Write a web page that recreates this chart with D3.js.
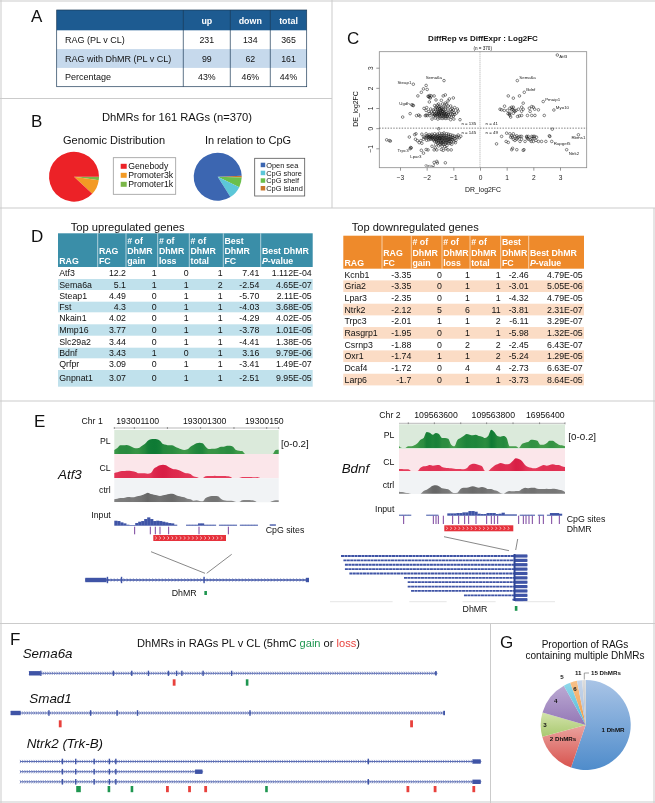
<!DOCTYPE html>
<html>
<head>
<meta charset="utf-8">
<title>DhMRs in RAGs</title>
<script src="https://cdn.jsdelivr.net/npm/d3@7"></script>
<style>
html, body { margin: 0; padding: 0; background: #fff; }
svg { display: block; font-family: "Liberation Sans", Arial, sans-serif; filter: blur(0.3px); }
</style>
</head>
<body>
<div id="chart"></div>
<script>
// panel A
const summaryCols = ["up", "down", "total"];
const summaryRows = ["RAG (PL v CL)", "RAG with DhMR (PL v CL)", "Percentage"];
const summaryVals = [["231", "134", "365"], ["99", "62", "161"], ["43%", "46%", "44%"]];

// panel B
const genomicNames = ["Promoter1k", "Promoter3k", "Genebody"];
const genomicVals = [8, 35, 317];
const cpgNames = ["CpG island", "CpG shelf", "CpG shore", "Open sea"];
const cpgVals = [4, 24, 32, 300];

// panel C, [DR_log2FC, DE_log2FC]
const upLeftPts = [[-2.02,2.12],[-2.12,1.95],[-1.98,1.92],[-2.2,1.78],[-2.33,1.6],[-1.72,1.6],[-1.95,1.58],[-1.9,1.52],[-1.88,1.62],[-1.82,1.6],[-1.3,1.65],[-1.38,1.6],[-1.0,1.5],[-1.15,1.45],[-1.45,1.38],[-1.2,1.35],[-1.9,1.3],[-1.55,1.2],[-1.4,1.2],[-1.3,1.25],[-1.25,1.2],[-1.6,1.15],[-1.7,1.12],[-1.65,1.05],[-1.55,1.05],[-1.5,1.08],[-1.45,1.02],[-1.35,1.1],[-1.3,1.05],[-1.2,1.1],[-1.1,1.1],[-1.05,0.98],[-0.95,1.02],[-0.85,0.95],[-0.82,0.85],[-0.88,0.75],[-1.0,0.9],[-1.1,0.92],[-1.2,0.95],[-1.3,0.95],[-1.38,0.92],[-1.45,0.9],[-1.52,0.92],[-1.6,0.92],[-1.68,0.95],[-1.75,0.9],[-1.85,0.95],[-2.0,1.02],[-2.1,0.98],[-2.02,0.88],[-1.92,0.82],[-1.82,0.8],[-1.72,0.82],[-1.62,0.8],[-1.55,0.82],[-1.48,0.78],[-1.42,0.82],[-1.35,0.8],[-1.28,0.82],[-1.2,0.78],[-1.12,0.8],[-1.05,0.82],[-0.98,0.78],[-0.95,0.68],[-1.02,0.68],[-1.1,0.7],[-1.18,0.68],[-1.25,0.72],[-1.32,0.7],[-1.38,0.72],[-1.45,0.7],[-1.52,0.72],[-1.58,0.7],[-1.65,0.72],[-1.72,0.7],[-1.78,0.72],[-1.9,0.72],[-1.98,0.62],[-2.05,0.62],[-2.02,0.65],[-2.3,0.65],[-2.38,0.62],[-2.25,0.6],[-2.62,0.72],[-2.9,0.55],[-1.88,0.62],[-1.75,0.6],[-1.68,0.62],[-1.6,0.6],[-1.55,0.62],[-1.5,0.58],[-1.42,0.6],[-1.36,0.58],[-1.3,0.6],[-1.24,0.58],[-1.15,0.6],[-1.08,0.55],[-1.0,0.6],[-0.98,0.45],[-1.1,0.42],[-1.2,0.5],[-1.28,0.48],[-1.35,0.5],[-1.42,0.48],[-1.5,0.5],[-1.58,0.45],[-1.68,0.5],[-1.8,0.45],[-0.75,0.42],[-1.48,0.88],[-1.58,0.85],[-1.4,0.85],[-1.33,0.76],[-1.46,0.74],[-1.55,0.76],[-1.62,0.66],[-1.7,0.66],[-1.28,0.66],[-1.22,0.62],[-1.44,0.64],[-1.35,0.64],[-1.52,0.66],[-1.6,1.0],[-1.5,0.98],[-1.42,0.96],[-1.92,1.58],[-1.86,1.5],[-2.52,1.14],[-2.5,1.12],[-1.65,1.4]];
const lowLeftPts = [[-3.5,-0.58],[-3.4,-0.62],[-3.36,-0.64],[-2.65,-0.44],[-2.45,-0.32],[-2.4,-0.28],[-2.42,-0.55],[-2.35,-0.62],[-2.28,-0.72],[-2.22,-0.62],[-2.18,-0.75],[-2.12,-0.55],[-2.18,-0.3],[-2.02,-0.28],[-1.9,-0.32],[-1.8,-0.3],[-1.7,-0.28],[-1.6,-0.3],[-1.52,-0.25],[-1.42,-0.28],[-1.35,-0.24],[-1.25,-0.28],[-1.18,-0.3],[-1.1,-0.33],[-1.02,-0.36],[-0.95,-0.4],[-0.88,-0.42],[-0.82,-0.34],[-1.55,-0.03],[-1.0,-0.48],[-1.05,-0.45],[-1.12,-0.42],[-1.18,-0.4],[-1.25,-0.38],[-1.32,-0.38],[-1.38,-0.36],[-1.44,-0.38],[-1.5,-0.36],[-1.56,-0.4],[-1.62,-0.38],[-1.68,-0.4],[-1.74,-0.38],[-1.8,-0.4],[-1.86,-0.38],[-1.92,-0.4],[-1.98,-0.38],[-2.0,-0.42],[-2.02,-0.48],[-1.95,-0.46],[-1.9,-0.44],[-1.84,-0.46],[-1.78,-0.44],[-1.72,-0.46],[-1.66,-0.46],[-1.6,-0.44],[-1.54,-0.46],[-1.48,-0.44],[-1.42,-0.46],[-1.36,-0.44],[-1.3,-0.46],[-1.24,-0.48],[-1.18,-0.5],[-1.12,-0.5],[-1.06,-0.55],[-1.02,-0.58],[-1.1,-0.58],[-1.16,-0.56],[-1.22,-0.56],[-1.28,-0.54],[-1.34,-0.52],[-1.4,-0.54],[-1.46,-0.52],[-1.52,-0.54],[-1.58,-0.52],[-1.64,-0.54],[-1.7,-0.52],[-1.76,-0.55],[-1.84,-0.55],[-1.92,-0.58],[-2.0,-0.6],[-1.62,-0.62],[-1.56,-0.6],[-1.5,-0.62],[-1.44,-0.6],[-1.38,-0.62],[-1.32,-0.6],[-1.26,-0.63],[-1.2,-0.64],[-1.14,-0.66],[-1.08,-0.68],[-1.7,-0.66],[-1.62,-0.68],[-1.56,-0.7],[-1.48,-0.68],[-1.42,-0.7],[-1.36,-0.68],[-1.3,-0.7],[-1.24,-0.72],[-1.18,-0.74],[-1.12,-0.76],[-1.06,-0.8],[-1.3,-0.78],[-1.36,-0.8],[-1.42,-0.78],[-1.5,-0.8],[-1.58,-0.76],[-1.66,-0.82],[-1.24,-0.86],[-1.32,-0.92],[-1.42,-0.9],[-1.55,-0.88],[-1.62,-1.08],[-1.72,-1.08],[-1.95,-1.08],[-2.02,-1.06],[-1.45,-1.06],[-1.38,-1.1],[-1.2,-1.08],[-1.08,-1.08],[-1.8,-0.9],[-1.68,-0.98],[-1.28,-1.02],[-2.58,-0.98],[-2.62,-1.02],[-2.2,-1.1],[-1.72,-1.7],[-1.62,-1.65],[-1.3,-1.72],[-0.95,-0.52],[-0.9,-0.6],[-0.85,-0.46],[-0.78,-0.48],[-0.72,-0.4],[-0.98,-0.68],[-0.92,-0.72],[-2.08,-0.46],[-2.12,-0.42],[-1.88,-0.52],[-1.8,-0.5],[-1.74,-0.6],[-1.66,-0.58],[-1.46,-0.74],[-1.52,-0.5]];
const upRightPts = [[1.06,1.6],[1.25,1.49],[1.48,1.6],[1.62,1.24],[0.75,0.94],[0.92,1.09],[0.81,0.91],[1.03,0.88],[1.12,0.99],[1.25,1.04],[1.22,0.94],[1.19,0.91],[1.56,1.04],[1.62,0.94],[1.56,0.84],[1.85,0.99],[1.94,1.07],[2.0,1.04],[2.05,0.94],[2.19,0.91],[1.12,0.74],[1.1,0.69],[1.12,0.64],[1.15,0.55],[1.41,0.58],[1.48,0.61],[1.56,0.63],[1.78,0.63],[1.94,0.63],[2.06,0.63],[2.41,0.63],[1.31,0.83],[1.25,0.74],[1.88,0.83],[0.91,0.88],[1.19,1.04],[1.35,0.88],[1.44,0.94],[1.27,0.88],[1.05,0.72]];
const lowRightPts = [[0.62,-0.78],[0.81,-0.41],[1.0,-0.25],[0.98,-0.66],[1.06,-0.71],[1.19,-1.07],[1.22,-1.0],[1.38,-1.07],[1.62,-1.1],[1.65,-1.07],[1.12,-0.28],[1.25,-0.28],[1.19,-0.38],[1.31,-0.41],[1.38,-0.38],[1.44,-0.45],[1.5,-0.41],[1.31,-0.61],[1.38,-0.55],[1.25,-0.55],[1.56,-0.41],[1.69,-0.66],[1.75,-0.45],[1.78,-0.5],[1.75,-0.41],[1.94,-0.41],[2.0,-0.41],[2.02,-0.5],[1.92,-0.66],[2.0,-0.66],[2.1,-0.61],[2.19,-0.66],[2.31,-0.66],[2.47,-0.66],[2.6,-0.38],[2.62,-0.41],[2.71,-0.05],[2.05,-0.41],[1.5,-0.66],[1.22,-0.45],[1.15,-0.45],[1.56,-0.55],[1.88,-0.58],[1.81,-0.55],[2.12,-0.45],[1.81,-0.41],[1.95,-0.5],[1.4,-0.5]];
const geneNames = ["Atf3", "Sema6a", "Bdnf", "Pmaip1", "Myo10", "Rbms1", "Rapgef5", "Ntrk2", "Steap1", "Sema6a", "Ugdh", "Trpc3", "Lpar3", "Gria2"];
const geneDR = [2.9, 1.4, 1.66, 2.37, 2.77, 3.69, 2.69, 3.25, -2.5, -1.35, -2.56, -2.6, -2.12, -1.6];
const geneDE = [3.63, 2.36, 1.78, 1.32, 0.9, -0.33, -0.66, -1.07, 2.18, 2.36, 1.16, -0.96, -1.24, -1.73];
const countLabels = ["n = 135", "n = 41", "n = 145", "n = 49"];

// panel D
const tableHead = [["RAG"], ["RAG", "FC"], ["# of", "DhMR", "gain"], ["# of", "DhMR", "loss"], ["# of", "DhMR", "total"], ["Best", "DhMR", "FC"], ["Best DhMR", "P-value"]];
const upGenes = ["Atf3", "Sema6a", "Steap1", "Fst", "Nkain1", "Mmp16", "Slc29a2", "Bdnf", "Qrfpr", "Gnpnat1"];
const upFC = ["12.2", "5.1", "4.49", "4.3", "4.02", "3.77", "3.44", "3.43", "3.09", "3.07"];
const upGain = [1, 1, 0, 0, 0, 0, 0, 1, 0, 0];
const upLoss = [0, 1, 1, 1, 1, 1, 1, 0, 1, 1];
const upTotal = [1, 2, 1, 1, 1, 1, 1, 1, 1, 1];
const upBest = ["7.41", "-2.54", "-5.70", "-4.03", "-4.29", "-3.78", "-4.41", "3.16", "-3.41", "-2.51"];
const upPval = ["1.112E-04", "4.65E-07", "2.11E-05", "3.68E-05", "4.02E-05", "1.01E-05", "1.38E-05", "9.79E-06", "1.49E-07", "9.95E-05"];
const downGenes = ["Kcnb1", "Gria2", "Lpar3", "Ntrk2", "Trpc3", "Rasgrp1", "Csrnp3", "Oxr1", "Dcaf4", "Larp6"];
const downFC = ["-3.35", "-3.35", "-2.35", "-2.12", "-2.01", "-1.95", "-1.88", "-1.74", "-1.72", "-1.7"];
const downGain = [0, 0, 0, 5, 1, 0, 0, 1, 0, 0];
const downLoss = [1, 1, 1, 6, 1, 1, 2, 1, 4, 1];
const downTotal = [1, 1, 1, 11, 2, 1, 2, 2, 4, 1];
const downBest = ["-2.46", "-3.01", "-4.32", "-3.81", "-6.11", "-5.98", "-2.45", "-5.24", "-2.73", "-3.73"];
const downPval = ["4.79E-05", "5.05E-06", "4.79E-05", "2.31E-07", "3.29E-07", "1.32E-05", "6.43E-07", "1.29E-05", "6.63E-07", "8.64E-05"];

// panel E, signal per bin
const atf3PL = [12,18,26,26,27,25,20,17,18,24,30,40,44,45,44,40,30,28,26,26,22,18,14,12,14,22,27,32,34,32,22,15,16,16,18,22,22,25,25,22,12,10,9,0,0,0,0,0,0,0,0,0,0,12,13];
const atf3CL = [15,17,20,21,22,22,20,18,14,14,14,13,15,28,34,38,40,38,32,28,26,24,20,16,14,12,5,3,0,0,5,6,6,7,6,6,6,5,4,0,0,0,3,3,3,3,2,3,0,0,0,0,0,0,0];
const atf3Ctrl = [8,10,12,12,14,15,14,16,18,20,24,28,24,22,20,18,20,22,24,25,22,18,16,14,10,8,4,5,3,2,12,16,18,18,17,10,5,4,4,3,0,0,5,6,6,5,4,0,0,0,0,0,3,5,5];
const atf3Input = [15,14,10,7,3,2,2,8,12,14,20,25,20,14,15,14,12,10,8,7,3,0,0,0,3,3,3,3,7,7,3,3,3,3,0,3,3,3,3,3,3,0,3,3,3,3,3,3,0,0,0,0,4,4,0];
const bdnfPL = [6,0,0,5,5,8,14,25,30,48,46,40,45,42,30,30,28,10,5,24,30,36,42,40,38,40,36,34,30,36,55,48,36,34,36,30,5,5,5,0,12,16,18,25,24,22,10,10,14,22,22,16,10,8,5];
const bdnfCL = [6,6,5,5,0,0,0,10,14,15,18,16,17,18,12,10,9,8,7,6,6,5,8,18,22,21,18,14,0,0,8,16,20,24,22,20,22,30,38,36,30,18,12,10,8,10,14,18,16,18,20,18,18,14,12];
const bdnfCtrl = [6,5,3,2,0,0,0,0,8,12,18,24,25,22,16,15,13,6,2,3,14,18,18,20,22,20,18,20,18,14,14,10,8,2,0,5,8,7,8,8,14,18,16,18,18,15,14,14,15,14,15,14,12,10,5];
const bdnfInput = [3,3,3,3,0,0,0,0,0,3,3,3,3,0,0,0,7,7,7,8,8,10,10,14,14,12,6,5,5,8,8,8,5,6,9,4,4,4,4,0,3,3,3,3,3,0,3,3,0,3,8,8,8,6,0];
const atf3Cpg = [404, 451, 466, 480, 506, 597, 685];
const bdnfCpg = [221, 310, 318, 325, 340, 368, 386, 404, 416, 438, 470, 484, 493, 503, 566, 580, 588, 597, 607, 628, 640, 665, 688];
const atf3Ticks = ["193001100", "193001300", "19300150"];
const bdnfTicks = ["109563600", "109563800", "16956400"];
const bdnfStarts = [0, 1.3, 2.1, 2.1, 4.5, 33.8, 35.8, 35.8, 37.6, 66, 92];

// panel F, positions in percent of the gene length
const sema6aExons = [2.9, 20.7, 25.2, 29.3, 34.2, 36.2, 37.5, 42.7, 49.7];
const sema6aLoss = [35.6];
const sema6aGain = [53.5];
const smad1Exons = [8.8, 18.4, 24.5, 29.2, 55.1];
const smad1Loss = [11.4, 92.3];
const smad1Gain = [];
const ntrk2Exons = [9.2, 12.1, 16.1, 19.4, 20.8, 75.6];
const ntrk2Loss = [32, 36.8, 40.3, 84.2, 90.1, 98.5];
const ntrk2Gain = [12.7, 19.3, 24.3, 53.5];

// panel G
const multiNames = ["1 DhMR", "2 DhMRs", "3", "4", "5", "6", "11", "15 DhMRs"];
const multiVals = [89, 25, 14, 20, 4, 4, 3, 2];

const svg = d3.select("#chart").append("svg").attr("width", 655).attr("height", 803);
const defs = svg.append("defs");
const lineCol = "#cbcbcb", blue = "#3f54a6", red = "#e8413c", green = "#1f9650";
let gradCount = 0;

function txt(parent, x, y, s, size, opts) {
	opts = opts || {};
	return parent.append("text").attr("x", x).attr("y", y).text(s)
		.attr("font-size", size)
		.attr("fill", opts.fill || "#111")
		.attr("text-anchor", opts.anchor || "start")
		.attr("font-weight", opts.weight || null)
		.attr("font-style", opts.style || null);
}

// panel frame lines
const frame = [[0, 1, 655, 1], [1, 0, 1, 803], [0, 98.5, 332, 98.5], [332, 0, 332, 208], [0, 208, 655, 208], [0, 401, 655, 401], [0, 623.5, 655, 623.5], [490.5, 623.5, 490.5, 803], [654, 208, 654, 803], [0, 802, 655, 802]];
svg.selectAll("line.frame").data(frame).join("line").attr("class", "frame")
	.attr("x1", d => d[0]).attr("y1", d => d[1]).attr("x2", d => d[2]).attr("y2", d => d[3])
	.attr("stroke", lineCol).attr("stroke-width", 1);

[["A", 31, 22], ["B", 31, 127], ["C", 347, 44], ["D", 31, 242], ["E", 34, 427], ["F", 10, 645], ["G", 500, 648]].forEach(d => {
	txt(svg, d[1], d[2], d[0], 17);
});

function drawSummary() {
	const g = svg.append("g");
	const left = 56.7, right = 306.7;
	const colEdges = [left, 183.3, 230.3, 270.3, right];
	const rowY = d3.scaleBand().domain(d3.range(summaryRows.length)).range([30.3, 86.7]);
	g.append("rect").attr("x", left).attr("y", 10).attr("width", right - left).attr("height", 20.3).attr("fill", "#1d5b91");
	g.append("rect").attr("x", left).attr("y", rowY(1)).attr("width", right - left).attr("height", rowY.bandwidth()).attr("fill", "#c6d9ec");
	summaryCols.forEach((c, i) => {
		txt(g, (colEdges[i + 1] + colEdges[i + 2]) / 2, 23.5, c, 8.9, { fill: "#fff", anchor: "middle", weight: "bold" });
	});
	summaryRows.forEach((r, i) => {
		const y = rowY(i) + rowY.bandwidth() / 2 + 3;
		txt(g, 65, y, r, 9);
		summaryVals[i].forEach((v, j) => {
			txt(g, (colEdges[j + 1] + colEdges[j + 2]) / 2, y, v, 8.8, { anchor: "middle" });
		});
	});
	g.append("rect").attr("x", left).attr("y", 10).attr("width", right - left).attr("height", 76.7).attr("fill", "none").attr("stroke", "#1b3a57").attr("stroke-width", 0.7);
	colEdges.slice(1, 4).forEach(x => {
		g.append("line").attr("x1", x).attr("x2", x).attr("y1", 10).attr("y2", 86.7).attr("stroke", "#1b3a57").attr("stroke-width", 0.7);
	});
}

function smallPie(cx, cy, r, vals, cols, startDeg) {
	const start = startDeg * Math.PI / 180;
	const pie = d3.pie().sort(null).startAngle(start).endAngle(start + 2 * Math.PI);
	const arc = d3.arc().innerRadius(0).outerRadius(r);
	svg.append("g").attr("transform", `translate(${cx},${cy})`)
		.selectAll("path").data(pie(vals)).join("path")
		.attr("d", arc).attr("fill", (d, i) => cols[i]);
}

function drawLegend(box, names, cols, x, ys, size, swatch) {
	svg.append("rect").attr("x", box[0]).attr("y", box[1]).attr("width", box[2]).attr("height", box[3])
		.attr("fill", "#fff").attr("stroke", box[4]).attr("stroke-width", 0.8);
	names.forEach((n, i) => {
		svg.append("rect").attr("x", x).attr("y", ys[i] - swatch[1] - 0.5).attr("width", swatch[0]).attr("height", swatch[1]).attr("fill", cols[i]);
		txt(svg, x + swatch[0] + (swatch[0] > 5 ? 1.5 : 1), ys[i], n, size);
	});
}

function drawPies() {
	txt(svg, 177, 121, "DhMRs for 161 RAGs (n=370)", 11.2, { anchor: "middle" });
	txt(svg, 114, 144, "Genomic Distribution", 11, { anchor: "middle" });
	txt(svg, 248, 144, "In relation to CpG", 11, { anchor: "middle" });
	const genomicCols = ["#7ab648", "#f39a24", "#ec2227"];
	const cpgCols = ["#c9772d", "#6abf4b", "#5cc7d8", "#3c66b1"];
	smallPie(74, 176.7, 25, genomicVals, genomicCols, 90);
	smallPie(217.7, 176.7, 24, cpgVals, cpgCols, 88);
	drawLegend([113.3, 157.7, 62.4, 36.6, "#9a9a9a"], genomicNames.slice().reverse(), genomicCols.slice().reverse(), 120.7, [169.3, 178.3, 187.3], 8.7, [6, 5]);
	drawLegend([254.7, 158.3, 50, 37.7, "#555"], cpgNames.slice().reverse(), cpgCols.slice().reverse(), 260.7, [167.7, 175.7, 183.3, 191], 7.4, [4.5, 4.5]);
}

function drawScatter() {
	const g = svg.append("g");
	const x = d3.scaleLinear().domain([-3, 3]).range([400, 560]);
	const y = d3.scaleLinear().domain([-1, 3]).range([148.3, 67.7]);
	const box = [379.3, 586.7, 167.7, 51.7];
	txt(g, 483, 41, "DiffRep vs DiffExpr : Log2FC", 8, { anchor: "middle", weight: "bold" });
	txt(g, 482.7, 50.4, "(n = 370)", 4.6, { anchor: "middle" });
	g.append("rect").attr("x", box[0]).attr("y", box[3]).attr("width", box[1] - box[0]).attr("height", box[2] - box[3])
		.attr("fill", "none").attr("stroke", "#8a8a8a").attr("stroke-width", 0.8);

	const axisX = d3.axisBottom(x).tickValues(d3.range(-3, 4)).tickSize(3).tickFormat(d => d < 0 ? "\u2212" + (-d) : d);
	const ax = g.append("g").attr("transform", `translate(0,${box[2]})`).call(axisX);
	ax.select(".domain").remove();
	ax.selectAll("line").attr("stroke", "#555").attr("stroke-width", 0.6);
	ax.selectAll("text").attr("font-size", 6.6).attr("fill", "#222").attr("font-family", "inherit").attr("dy", null).attr("y", 12.5);

	const axisY = d3.axisLeft(y).tickValues(d3.range(-1, 4)).tickSize(3).tickFormat(d => d < 0 ? "\u2212" + (-d) : d);
	const ay = g.append("g").attr("transform", `translate(${box[0]},0)`).call(axisY);
	ay.select(".domain").remove();
	ay.selectAll("line").attr("stroke", "#555").attr("stroke-width", 0.6);
	ay.selectAll("text").attr("font-size", 6.6).attr("fill", "#222").attr("font-family", "inherit")
		.attr("x", null).attr("dy", null).attr("text-anchor", "middle")
		.attr("transform", "translate(-6.5,0) rotate(-90)");

	txt(g, 483, 191.5, "DR_log2FC", 6.9, { anchor: "middle" });
	txt(g, 0, 0, "DE_log2FC", 6.9, { anchor: "middle" }).attr("transform", "translate(358,109) rotate(-90)");

	g.append("line").attr("x1", box[0]).attr("x2", box[1]).attr("y1", y(0)).attr("y2", y(0))
		.attr("stroke", "#222").attr("stroke-width", 0.6).attr("stroke-dasharray", "1.4,1.4");
	g.append("line").attr("x1", x(0)).attr("x2", x(0)).attr("y1", box[3]).attr("y2", box[2])
		.attr("stroke", "#888").attr("stroke-width", 0.7).attr("stroke-dasharray", "1,1");

	const namedPts = geneNames.map((n, i) => [geneDR[i], geneDE[i]]);
	const pts = upLeftPts.concat(lowLeftPts, upRightPts, lowRightPts, namedPts);
	g.selectAll("circle").data(pts).join("circle")
		.attr("cx", d => x(d[0])).attr("cy", d => y(d[1])).attr("r", 1.3)
		.attr("fill", "none").attr("stroke", "#111").attr("stroke-width", 0.5);

	// label offsets from each named point
	const labelOff = [[2, 3, "start"], [2, -2, "start"], [2, -1.5, "start"], [2, -1, "start"], [2, -1.5, "start"], [0, 4, "middle"], [2, 4, "start"], [2, 5, "start"], [-2, 0, "end"], [-2, -1.5, "end"], [-2, 0, "end"], [-2, 5, "end"], [-2, 5, "end"], [-2, 4, "end"]];
	geneNames.forEach((n, i) => {
		const o = labelOff[i];
		txt(g, x(geneDR[i]) + o[0], y(geneDE[i]) + o[1], n, 4.4, { anchor: o[2], fill: "#222" });
	});

	txt(g, x(-0.42), y(0.17), countLabels[0], 4.4, { anchor: "middle" });
	txt(g, x(0.44), y(0.17), countLabels[1], 4.4, { anchor: "middle" });
	txt(g, x(-0.42), y(-0.3), countLabels[2], 4.4, { anchor: "middle" });
	txt(g, x(0.44), y(-0.3), countLabels[3], 4.4, { anchor: "middle" });
}

function drawTable(t) {
	const g = svg.append("g");
	const e = t.edges, left = e[0], right = e[e.length - 1];
	g.append("rect").attr("x", left).attr("y", t.headTop).attr("width", right - left).attr("height", t.headBottom - t.headTop).attr("fill", t.head);
	e.slice(1, -1).forEach(x => {
		g.append("line").attr("x1", x).attr("x2", x).attr("y1", t.headTop).attr("y2", t.headBottom).attr("stroke", "#fff").attr("stroke-width", 0.6);
	});
	tableHead.forEach((lines, i) => {
		const lx = e[i] + 1.2;
		lines.forEach((l, k) => {
			const yy = t.headBottom - 2.6 - (lines.length - 1 - k) * 10.4;
			const node = txt(g, lx, yy, l === "P-value" ? "" : l, 8.8, { fill: "#fff", weight: "bold" });
			if (l === "P-value") {
				node.append("tspan").attr("font-style", "italic").text("P");
				node.append("tspan").text("-value");
			}
		});
	});
	let top = t.headBottom;
	t.rows[0].forEach((gene, r) => {
		const h = t.heights[r];
		if (r % 2 === 1) {
			g.append("rect").attr("x", left).attr("y", top).attr("width", right - left).attr("height", h).attr("fill", t.band);
		}
		const yy = top + h / 2 + 3;
		txt(g, left + 1.2, yy, gene, 8.8);
		t.rows.slice(1).forEach((col, c) => {
			txt(g, t.rights[c], yy, col[r], 8.8, { anchor: "end" });
		});
		top += h;
	});
}

// signal track: a smooth area, darker where the signal is high
function drawSignal(g, vals, x0, x1, base, colors) {
	const x = d3.scaleLinear().domain([0, vals.length - 1]).range([x0, x1]);
	const h = d3.scaleLinear().domain([0, 72]).range([0, 24]);
	const col = d3.scaleLinear().domain([0, d3.max(vals)]).range(colors);
	const id = "signal" + (gradCount++);
	const lg = defs.append("linearGradient").attr("id", id).attr("gradientUnits", "userSpaceOnUse")
		.attr("x1", x0).attr("x2", x1).attr("y1", 0).attr("y2", 0);
	vals.forEach((v, i) => {
		lg.append("stop").attr("offset", i / (vals.length - 1)).attr("stop-color", col(v));
	});
	const area = d3.area().x((d, i) => x(i)).y0(base).y1(d => base - h(d)).curve(d3.curveMonotoneX);
	g.append("path").attr("d", area(vals)).attr("fill", `url(#${id})`);
}

function drawInput(g, vals, x0, x1, base) {
	const x = d3.scaleBand().domain(d3.range(vals.length)).range([x0, x1]);
	const h = d3.scaleLinear().domain([0, 72]).range([0, 24]);
	g.selectAll(null).data(vals).join("rect")
		.attr("x", (d, i) => x(i)).attr("width", x.bandwidth() + 0.2)
		.attr("y", d => base - h(d)).attr("height", d => h(d))
		.attr("fill", blue);
}

function chevrons(g, x0, x1, y, h) {
	const pts = d3.range(x0 + 2, x1 - 2, 4.1);
	g.selectAll(null).data(pts).join("path")
		.attr("d", d => `M${d},${y + 1.4}l1.3,${h / 2 - 1.4}l-1.3,${h / 2 - 1.4}`)
		.attr("fill", "none").attr("stroke", "#fff").attr("stroke-width", 0.6);
}

function drawBrowser(b) {
	const g = svg.append("g");
	const x = d3.scaleLinear().domain([0, 1]).range([b.x0, b.x1]);
	txt(g, b.chrX, b.tickY, b.chr, 8.7);
	b.tickLabels.forEach((s, i) => txt(g, b.tickXs[i], b.tickY, s, 8.7, { anchor: "middle" }));
	g.append("line").attr("x1", b.x0).attr("x2", b.x1).attr("y1", b.axisY).attr("y2", b.axisY).attr("stroke", "#8b8b8b").attr("stroke-width", 0.6);
	b.axisTicks.forEach(f => {
		g.append("line").attr("x1", x(f)).attr("x2", x(f)).attr("y1", b.axisY - 1).attr("y2", b.axisY + 1).attr("stroke", "#555").attr("stroke-width", 0.6);
	});
	b.tracks.forEach(t => {
		g.append("rect").attr("x", b.x0).attr("y", t.top).attr("width", b.x1 - b.x0).attr("height", t.bottom - t.top).attr("fill", t.bg);
		drawSignal(g, t.vals, b.x0, b.x1, t.base, t.cols);
		txt(g, b.labelX, t.labelY, t.name, 8.7, { anchor: "end" });
	});
	txt(g, b.rangeX, b.rangeY, "[0-0.2]", 9.8);
	txt(g, b.geneX, b.geneY, b.gene, 13.4, { style: "italic" });
	txt(g, b.labelX, b.inputLabelY, "Input", 8.7, { anchor: "end" });
	drawInput(g.append("g"), b.input, b.x0, b.x1, b.inputBase);
	const cpgX = d3.scaleLinear().domain(b.cpgZoom).range([b.x0, b.x1]);
	g.selectAll(null).data(b.cpg).join("line")
		.attr("x1", d => cpgX(d)).attr("x2", d => cpgX(d)).attr("y1", b.cpgTop).attr("y2", b.cpgBottom)
		.attr("stroke", "#6a2c91").attr("stroke-width", 0.9);
	b.sideLabels.forEach(s => txt(g, s[1], s[2], s[0], 8.8));
	g.append("rect").attr("x", b.dmr[0]).attr("y", b.dmr[2]).attr("width", b.dmr[1] - b.dmr[0]).attr("height", 6).attr("fill", "#e6323c");
	chevrons(g, b.dmr[0], b.dmr[1], b.dmr[2], 6);
	b.connectors.forEach(c => {
		g.append("line").attr("x1", c[0]).attr("y1", c[1]).attr("x2", c[2]).attr("y2", c[3]).attr("stroke", "#555").attr("stroke-width", 0.7);
	});
	return g;
}

// gene model: intron line with small hatch marks plus exon blocks
function geneModel(g, x, y, o) {
	g.append("line").attr("x1", x(o.from)).attr("x2", x(o.to)).attr("y1", y).attr("y2", y).attr("stroke", blue).attr("stroke-width", o.lineW || 0.8);
	g.selectAll(null).data(d3.range(x(o.from), x(o.to), o.step)).join("path")
		.attr("d", d => `M${d},${y - 1.6}l1,1.6l-1,1.6`)
		.attr("fill", "none").attr("stroke", blue).attr("stroke-width", 0.6);
	(o.thick || []).forEach(t => {
		g.append("rect").attr("x", x(t[0])).attr("width", x(t[1]) - x(t[0])).attr("y", y - 2.2).attr("height", 4.4).attr("fill", blue);
	});
	g.selectAll(null).data(o.exons || []).join("rect")
		.attr("x", d => x(d) - 0.7).attr("width", 1.4).attr("y", y - (o.exonH || 3)).attr("height", 2 * (o.exonH || 3)).attr("fill", blue);
}

function dhmrMarks(g, x, top, h, loss, gain, wide) {
	loss.forEach(p => {
		g.append("rect").attr("x", x(p) - 1.4).attr("width", 2.8).attr("y", top).attr("height", h).attr("fill", red);
	});
	gain.forEach(p => {
		const w = wide === p ? 4.6 : 2.6;
		g.append("rect").attr("x", x(p) - w / 2).attr("width", w).attr("y", top).attr("height", h).attr("fill", green);
	});
}

function drawAtf3() {
	const g = drawBrowser({
		gene: "Atf3", geneX: 58, geneY: 479.3, chr: "Chr 1", chrX: 81.5, tickY: 423.7,
		x0: 114.3, x1: 278.7, axisY: 428, axisTicks: [0, 0.122, 0.323, 0.525, 0.728, 0.927, 1],
		tickLabels: atf3Ticks, tickXs: [137.7, 204.7, 264.3], labelX: 110.7,
		tracks: [
			{ name: "PL", vals: atf3PL, top: 430, bottom: 454, base: 454, bg: "#dbeadb", cols: ["#4da34f", "#0e7a34"], labelY: 443.7 },
			{ name: "CL", vals: atf3CL, top: 454, bottom: 478.3, base: 478, bg: "#fbe6ea", cols: ["#e8405f", "#d81e45"], labelY: 471 },
			{ name: "ctrl", vals: atf3Ctrl, top: 478.3, bottom: 502.3, base: 502, bg: "#f1f3f5", cols: ["#8d8d8d", "#666"], labelY: 492.7 }
		],
		rangeX: 281, rangeY: 446.7, inputLabelY: 517.7, input: atf3Input, inputBase: 525.7,
		cpg: atf3Cpg, cpgZoom: [343, 836], cpgTop: 526.7, cpgBottom: 534.3,
		sideLabels: [["CpG sites", 265.7, 533.3]], dmr: [153.3, 226, 535],
		connectors: [[151, 551.7, 205, 573.3], [231.7, 554.3, 206.7, 573.3]]
	});
	const x = d3.scaleLinear().domain([0, 100]).range([85.3, 309]);
	geneModel(g, x, 580, { from: 0, to: 100, step: 3.2, lineW: 1.4, thick: [[0, 9.5], [98.6, 100]], exons: [9.9, 16.2, 53.1], exonH: 3.2 });
	txt(g, 171.7, 595.7, "DhMR", 8.8);
	dhmrMarks(g, x, 591, 4, [], [53.8]);
}

function drawBdnf() {
	const g = drawBrowser({
		gene: "Bdnf", geneX: 341.7, geneY: 473.3, chr: "Chr 2", chrX: 379.3, tickY: 417.7,
		x0: 399, x1: 565, axisY: 423.3, axisTicks: [0.056, 0.213, 0.372, 0.528, 0.687, 0.847, 1],
		tickLabels: bdnfTicks, tickXs: [436, 493.3, 545.3], labelX: 394.3,
		tracks: [
			{ name: "PL", vals: bdnfPL, top: 424.3, bottom: 449, base: 448, bg: "#dbeadb", cols: ["#4da34f", "#0e7a34"], labelY: 438.3 },
			{ name: "CL", vals: bdnfCL, top: 449, bottom: 471.7, base: 471, bg: "#fbe6ea", cols: ["#e8405f", "#d81e45"], labelY: 465 },
			{ name: "ctrl", vals: bdnfCtrl, top: 471.7, bottom: 494, base: 493.7, bg: "#f1f3f5", cols: ["#8d8d8d", "#666"], labelY: 487.7 }
		],
		rangeX: 568.3, rangeY: 440, inputLabelY: 512.3, input: bdnfInput, inputBase: 515.7,
		cpg: bdnfCpg, cpgZoom: [207, 705], cpgTop: 515.7, cpgBottom: 524,
		sideLabels: [["CpG sites", 566.7, 521.7], ["DhMR", 566.7, 531.7]], dmr: [444.3, 513.3, 525.3],
		connectors: [[444, 536.7, 509, 550.7], [517.7, 539, 515.7, 550]]
	});
	const x = d3.scaleLinear().domain([0, 100]).range([341, 527.3]);
	const rowY = d3.scalePoint().domain(d3.range(bdnfStarts.length)).range([556, 599.7]);
	g.selectAll("line.tx").data(bdnfStarts).join("line").attr("class", "tx")
		.attr("x1", d => x(d)).attr("x2", x(100)).attr("y1", (d, i) => rowY(i)).attr("y2", (d, i) => rowY(i))
		.attr("stroke", blue).attr("stroke-width", 1.8).attr("stroke-dasharray", "3,0.4");
	g.selectAll("rect.tx").data(bdnfStarts).join("rect").attr("class", "tx")
		.attr("x", x(93.4)).attr("width", x(100) - x(93.4)).attr("y", (d, i) => rowY(i) - 1.6).attr("height", 3.2).attr("fill", blue);
	g.append("rect").attr("x", x(92.6)).attr("width", 2).attr("y", 554).attr("height", 47).attr("fill", "#2e4596");
	[[330, 392.6], [409.3, 446.6], [462.6, 495.6], [523.3, 555]].forEach(s => {
		g.append("line").attr("x1", s[0]).attr("x2", s[1]).attr("y1", 601.7).attr("y2", 601.7).attr("stroke", "#ddd").attr("stroke-width", 0.8);
	});
	txt(g, 475, 611.7, "DhMR", 8.8, { anchor: "middle" });
	dhmrMarks(g, x, 606, 4.8, [], [94]);
}

function drawGenes() {
	const g = svg.append("g");
	const t = txt(g, 137, 647.3, "DhMRs in RAGs PL v CL (5hmC ", 11.1);
	t.append("tspan").attr("fill", green).text("gain");
	t.append("tspan").text(" or ");
	t.append("tspan").attr("fill", red).text("loss");
	t.append("tspan").text(")");
	txt(g, 22.7, 658.3, "Sema6a", 13.4, { style: "italic" });
	txt(g, 29.3, 702.7, "Smad1", 13.4, { style: "italic" });
	txt(g, 26.7, 748.3, "Ntrk2 (Trk-B)", 13.4, { style: "italic" });

	const sx = d3.scaleLinear().domain([0, 100]).range([29, 436.7]);
	geneModel(g, sx, 673.3, { from: 0, to: 100, step: 2.3, thick: [[0, 2.7], [99.6, 100]], exons: sema6aExons, exonH: 2.6 });
	dhmrMarks(g, sx, 679.3, 6.4, sema6aLoss, sema6aGain);

	const mx = d3.scaleLinear().domain([0, 100]).range([10.7, 445]);
	geneModel(g, mx, 713, { from: 0, to: 100, step: 2.3, thick: [[0, 2.3], [99.6, 100]], exons: smad1Exons, exonH: 2.8 });
	dhmrMarks(g, mx, 720.3, 7, smad1Loss, smad1Gain);

	const nx = d3.scaleLinear().domain([0, 100]).range([20, 480.7]);
	geneModel(g, nx, 761.5, { from: 0, to: 100, step: 2.3, thick: [[98.2, 100]], exons: ntrk2Exons, exonH: 2.8 });
	geneModel(g, nx, 771.7, { from: 0, to: 39.6, step: 2.3, thick: [[38, 39.6]], exons: ntrk2Exons.slice(0, 5), exonH: 2.8 });
	geneModel(g, nx, 781.8, { from: 0, to: 100, step: 2.3, thick: [[98.2, 100]], exons: ntrk2Exons, exonH: 2.8 });
	dhmrMarks(g, nx, 786, 6.2, ntrk2Loss, ntrk2Gain, 12.7);
}

function drawMultiPie() {
	const g = svg.append("g");
	txt(g, 585, 647.7, "Proportion of RAGs", 10, { anchor: "middle" });
	txt(g, 585, 659, "containing multiple DhMRs", 10, { anchor: "middle" });
	const cx = 585.7, cy = 725, r = 45;
	const top = ["#a9c4e6", "#eaa39f", "#d3e3ab", "#bba9d3", "#8fd8ea", "#f8c18a", "#c7d6ea", "#ddd"];
	const bottom = ["#4f8ccb", "#d8544f", "#a9c970", "#9478b6", "#4fb8d8", "#ee9a45", "#a9bfdc", "#bbb"];
	multiVals.forEach((v, i) => {
		const lg = defs.append("linearGradient").attr("id", "multi" + i).attr("x1", 0).attr("x2", 0).attr("y1", 0).attr("y2", 1);
		lg.append("stop").attr("offset", "0%").attr("stop-color", top[i]);
		lg.append("stop").attr("offset", "100%").attr("stop-color", bottom[i]);
	});
	const arc = d3.arc().innerRadius(0).outerRadius(r);
	g.append("g").attr("transform", `translate(${cx},${cy})`)
		.selectAll("path").data(d3.pie().sort(null)(multiVals)).join("path")
		.attr("d", arc).attr("fill", (d, i) => `url(#multi${i})`);
	const pos = [[613, 731.7], [563, 741], [545, 726.5], [555.7, 703], [562, 678.5], [575, 691], [578.3, 675], [591, 674.5]];
	multiNames.forEach((n, i) => {
		txt(g, pos[i][0], pos[i][1], n, 6.2, { anchor: i === 7 ? "start" : "middle", weight: "bold" });
	});
	g.append("path").attr("d", "M584.3,679.5V673H589").attr("fill", "none").attr("stroke", "#777").attr("stroke-width", 0.7);
}

drawSummary();
drawPies();
drawScatter();
txt(svg, 70.7, 231, "Top upregulated genes", 11.2);
txt(svg, 351.7, 231, "Top downregulated genes", 11.1);
drawTable({
	edges: [58, 97.7, 126, 157.7, 189.3, 223.3, 260.7, 312.7], headTop: 233.3, headBottom: 267, head: "#3a8ea8", band: "#c0e1ec",
	heights: [12, 11, 11.7, 10.6, 12, 11.4, 12, 10.6, 11.7, 16.7],
	rights: [126, 156.7, 188.7, 222.7, 259.3, 311.7],
	rows: [upGenes, upFC, upGain, upLoss, upTotal, upBest, upPval]
});
drawTable({
	edges: [343.3, 382, 411.3, 442, 470, 500.7, 528.7, 584], headTop: 235.7, headBottom: 268.7, head: "#ee8a2b", band: "#fbdcc5",
	heights: d3.range(10).map(() => 11.67),
	rights: [411.3, 442, 470, 500.7, 528.7, 582.7],
	rows: [downGenes, downFC, downGain, downLoss, downTotal, downBest, downPval]
});
drawAtf3();
drawBdnf();
drawGenes();
drawMultiPie();
</script>
</body>
</html>
